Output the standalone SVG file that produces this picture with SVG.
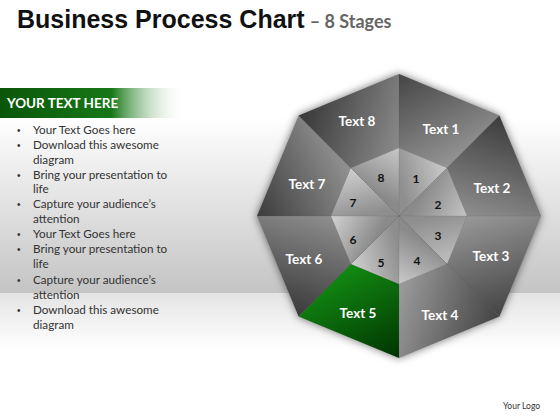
<svg xmlns="http://www.w3.org/2000/svg" width="560" height="420" viewBox="0 0 560 420">
<defs>
<style>
.title{font-family:"Liberation Sans",Arial,sans-serif;font-weight:bold;font-size:25px;fill:#111}
.sub{font-family:Lato,"Liberation Sans",sans-serif;font-weight:bold;font-size:18px;fill:#666}
.hdr{font-family:Lato,"Liberation Sans",sans-serif;font-weight:bold;font-size:13.5px;fill:#fff}
.bul{font-family:Lato,"Liberation Sans",sans-serif;font-size:11.7px;fill:#333}
.dot{font-family:"Liberation Sans",sans-serif;font-size:10px;fill:#333}
.lbl{font-family:Lato,"Open Sans",sans-serif;font-weight:bold;font-size:13.5px;fill:#fff;text-anchor:middle}
.num{font-family:Lato,"Open Sans",sans-serif;font-weight:bold;font-size:12px;fill:#111;text-anchor:middle}
.logo{font-family:Lato,"Liberation Sans",sans-serif;font-size:8.5px;fill:#333}
.seam{stroke:#555;stroke-width:0.5;stroke-opacity:0.3}
</style>
<linearGradient id="bgTop" x1="0" y1="0" x2="0" y2="293" gradientUnits="userSpaceOnUse">
<stop offset="0.4" stop-color="#ffffff"/><stop offset="1" stop-color="#c4c4c4"/>
</linearGradient>
<linearGradient id="bgBot" x1="0" y1="293" x2="0" y2="350" gradientUnits="userSpaceOnUse">
<stop offset="0" stop-color="#e4e4e4"/><stop offset="1" stop-color="#ffffff"/>
</linearGradient>
<linearGradient id="bar" x1="0" y1="0" x2="1" y2="0">
<stop offset="0" stop-color="#0a560a"/><stop offset="0.6" stop-color="#177817"/><stop offset="1" stop-color="#ffffff" stop-opacity="0"/>
</linearGradient>
<filter id="glow" x="-20%" y="-20%" width="140%" height="140%">
<feGaussianBlur stdDeviation="4"/>
</filter>
<linearGradient id="g1" x1="399" y1="74" x2="447" y2="168" gradientUnits="userSpaceOnUse"><stop offset="0" stop-color="#454545"/><stop offset="1" stop-color="#959595"/></linearGradient>
<linearGradient id="g2" x1="499" y1="116" x2="467" y2="216" gradientUnits="userSpaceOnUse"><stop offset="0" stop-color="#3c3c3c"/><stop offset="1" stop-color="#8e8e8e"/></linearGradient>
<linearGradient id="g3" x1="499" y1="316" x2="467" y2="216" gradientUnits="userSpaceOnUse"><stop offset="0" stop-color="#444444"/><stop offset="1" stop-color="#989898"/></linearGradient>
<linearGradient id="g4" x1="499" y1="316" x2="399" y2="284" gradientUnits="userSpaceOnUse"><stop offset="0" stop-color="#444444"/><stop offset="1" stop-color="#9c9c9c"/></linearGradient>
<linearGradient id="g5" x1="399" y1="358" x2="351" y2="264" gradientUnits="userSpaceOnUse"><stop offset="0" stop-color="#003400"/><stop offset="1" stop-color="#128a12"/></linearGradient>
<linearGradient id="g6" x1="299" y1="316" x2="331" y2="216" gradientUnits="userSpaceOnUse"><stop offset="0" stop-color="#3a3a3a"/><stop offset="1" stop-color="#8e8e8e"/></linearGradient>
<linearGradient id="g7" x1="257" y1="216" x2="351" y2="168" gradientUnits="userSpaceOnUse"><stop offset="0" stop-color="#3c3c3c"/><stop offset="1" stop-color="#929292"/></linearGradient>
<linearGradient id="g8" x1="299" y1="116" x2="399" y2="148" gradientUnits="userSpaceOnUse"><stop offset="0" stop-color="#383838"/><stop offset="1" stop-color="#8a8a8a"/></linearGradient>
<linearGradient id="i1" x1="399" y1="182" x2="447" y2="168" gradientUnits="userSpaceOnUse"><stop offset="0" stop-color="#8e8e8e"/><stop offset="1" stop-color="#cbcbcb"/></linearGradient>
<linearGradient id="i2" x1="423" y1="192" x2="467" y2="216" gradientUnits="userSpaceOnUse"><stop offset="0" stop-color="#8a8a8a"/><stop offset="1" stop-color="#c4c4c4"/></linearGradient>
<linearGradient id="i3" x1="433" y1="216" x2="447" y2="264" gradientUnits="userSpaceOnUse"><stop offset="0" stop-color="#8e8e8e"/><stop offset="1" stop-color="#c0c0c0"/></linearGradient>
<linearGradient id="i4" x1="423" y1="240" x2="399" y2="284" gradientUnits="userSpaceOnUse"><stop offset="0" stop-color="#8a8a8a"/><stop offset="1" stop-color="#cacaca"/></linearGradient>
<linearGradient id="i5" x1="399" y1="250" x2="351" y2="264" gradientUnits="userSpaceOnUse"><stop offset="0" stop-color="#8e8e8e"/><stop offset="1" stop-color="#d0d0d0"/></linearGradient>
<linearGradient id="i6" x1="375" y1="240" x2="331" y2="216" gradientUnits="userSpaceOnUse"><stop offset="0" stop-color="#8a8a8a"/><stop offset="1" stop-color="#d2d2d2"/></linearGradient>
<linearGradient id="i7" x1="365" y1="216" x2="351" y2="168" gradientUnits="userSpaceOnUse"><stop offset="0" stop-color="#8e8e8e"/><stop offset="1" stop-color="#d0d0d0"/></linearGradient>
<linearGradient id="i8" x1="375" y1="192" x2="399" y2="148" gradientUnits="userSpaceOnUse"><stop offset="0" stop-color="#8a8a8a"/><stop offset="1" stop-color="#c8c8c8"/></linearGradient>
</defs>

<rect x="0" y="0" width="560" height="293" fill="url(#bgTop)"/>
<rect x="0" y="293" width="560" height="127" fill="url(#bgBot)"/>

<g id="title">
<text x="17" y="28" class="title">Business Process Chart<tspan class="sub" dx="5">– 8 Stages</tspan></text>
</g>

<g id="textpanel">
<rect x="0" y="88" width="186" height="30" fill="url(#bar)"/>
<text x="7" y="108" class="hdr">YOUR TEXT HERE</text>
<g class="dot">
<text x="17" y="134">•</text><text x="17" y="149">•</text><text x="17" y="179">•</text><text x="17" y="208">•</text>
<text x="17" y="238">•</text><text x="17" y="253">•</text><text x="17" y="284">•</text><text x="17" y="314">•</text>
</g>
<g class="bul">
<text x="33" y="134">Your Text Goes here</text>
<text x="33" y="149">Download this awesome</text>
<text x="33" y="164">diagram</text>
<text x="33" y="179">Bring your presentation to</text>
<text x="33" y="193">life</text>
<text x="33" y="208">Capture your audience’s</text>
<text x="33" y="223">attention</text>
<text x="33" y="238">Your Text Goes here</text>
<text x="33" y="253">Bring your presentation to</text>
<text x="33" y="268">life</text>
<text x="33" y="284">Capture your audience’s</text>
<text x="33" y="299">attention</text>
<text x="33" y="314">Download this awesome</text>
<text x="33" y="329">diagram</text>
</g>
</g>

<polygon points="399,74 499.4,115.6 541,216 499.4,316.4 399,358 298.6,316.4 257,216 298.6,115.6" fill="#000" fill-opacity="0.55" filter="url(#glow)"/>

<g id="stage1"><polygon points="399,148 399,74 499.4,115.6 447.1,167.9" fill="url(#g1)"/><polygon points="399,216 399,148 447.1,167.9" fill="url(#i1)"/><text x="441" y="134" class="lbl">Text 1</text><text x="416" y="183" class="num">1</text></g>
<g id="stage2"><polygon points="447.1,167.9 499.4,115.6 541,216 467,216" fill="url(#g2)"/><polygon points="399,216 447.1,167.9 467,216" fill="url(#i2)"/><text x="492" y="193" class="lbl">Text 2</text><text x="438" y="209" class="num">2</text></g>
<g id="stage3"><polygon points="467,216 541,216 499.4,316.4 447.1,264.1" fill="url(#g3)"/><polygon points="399,216 467,216 447.1,264.1" fill="url(#i3)"/><text x="491" y="261" class="lbl">Text 3</text><text x="438" y="240" class="num">3</text></g>
<g id="stage4"><polygon points="447.1,264.1 499.4,316.4 399,358 399,284" fill="url(#g4)"/><polygon points="399,216 447.1,264.1 399,284" fill="url(#i4)"/><text x="440" y="320" class="lbl">Text 4</text><text x="417" y="265" class="num">4</text></g>
<g id="stage5"><polygon points="399,284 399,358 298.6,316.4 350.9,264.1" fill="url(#g5)"/><polygon points="399,216 399,284 350.9,264.1" fill="url(#i5)"/><text x="358" y="318" class="lbl">Text 5</text><text x="381" y="267" class="num">5</text></g>
<g id="stage6"><polygon points="350.9,264.1 298.6,316.4 257,216 331,216" fill="url(#g6)"/><polygon points="399,216 350.9,264.1 331,216" fill="url(#i6)"/><text x="304" y="264" class="lbl">Text 6</text><text x="353" y="244" class="num">6</text></g>
<g id="stage7"><polygon points="331,216 257,216 298.6,115.6 350.9,167.9" fill="url(#g7)"/><polygon points="399,216 331,216 350.9,167.9" fill="url(#i7)"/><text x="307" y="189" class="lbl">Text 7</text><text x="353" y="207" class="num">7</text></g>
<g id="stage8"><polygon points="350.9,167.9 298.6,115.6 399,74 399,148" fill="url(#g8)"/><polygon points="399,216 350.9,167.9 399,148" fill="url(#i8)"/><text x="357" y="126" class="lbl">Text 8</text><text x="381" y="182" class="num">8</text></g>

<g id="connectors" class="seam">
<line x1="399" y1="74" x2="399" y2="358"/>
<line x1="257" y1="216" x2="541" y2="216"/>
<line x1="298.6" y1="115.6" x2="499.4" y2="316.4"/>
<line x1="499.4" y1="115.6" x2="298.6" y2="316.4"/>
</g>

<text x="503" y="409" class="logo">Your Logo</text>
</svg>
